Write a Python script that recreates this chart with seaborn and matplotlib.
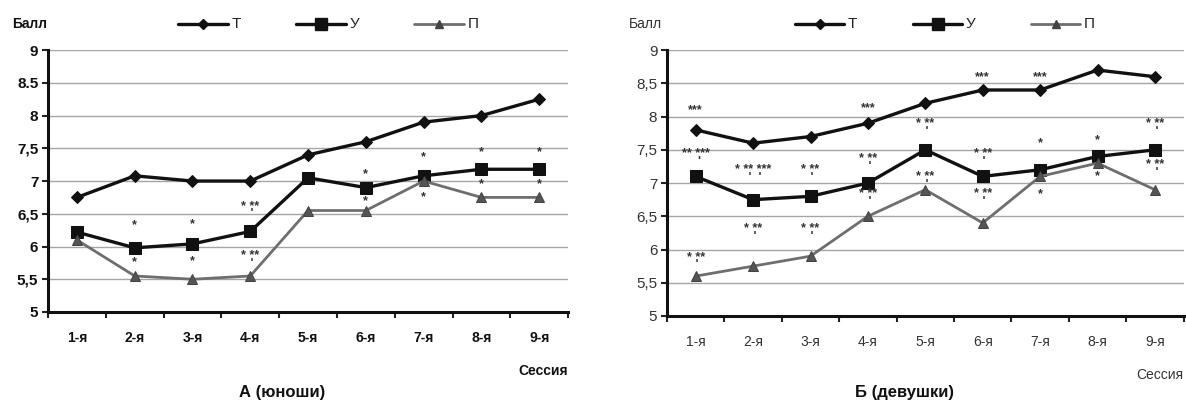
import numpy as np
import pandas as pd
import matplotlib
matplotlib.use("Agg")
import matplotlib.pyplot as plt
from matplotlib.ticker import FixedLocator
from matplotlib.lines import Line2D
import seaborn as sns

sns.set_theme(style="white")
plt.rcParams['font.family'] = ['Liberation Sans', 'DejaVu Sans']

sessions = ["1-я", "2-я", "3-я", "4-я", "5-я", "6-я", "7-я", "8-я", "9-я"]
series_names = ["Т", "У", "П"]

boys_T = [6.75, 7.08, 7.0, 7.0, 7.4, 7.6, 7.9, 8.0, 8.25]
boys_U = [6.22, 5.98, 6.04, 6.23, 7.05, 6.9, 7.08, 7.18, 7.18]
boys_P = [6.1, 5.55, 5.5, 5.55, 6.55, 6.55, 7.0, 6.75, 6.75]

girls_T = [7.8, 7.6, 7.7, 7.9, 8.2, 8.4, 8.4, 8.7, 8.6]
girls_U = [7.1, 6.75, 6.8, 7.0, 7.5, 7.1, 7.2, 7.4, 7.5]
girls_P = [5.6, 5.75, 5.9, 6.5, 6.9, 6.4, 7.1, 7.3, 6.9]

yticks = [5, 5.5, 6, 6.5, 7, 7.5, 8, 8.5, 9]
ytick_labels_boys = ["5", "5,5", "6", "6,5", "7", "7,5", "8", "8.5", "9"]
ytick_labels_girls = ["5", "5,5", "6", "6,5", "7", "7,5", "8", "8,5", "9"]

# significance marks: (session index, y value, text)
boys_marks = [
    (1, 6.33, "*"), (1, 5.76, "*"),
    (2, 6.34, "*"), (2, 5.78, "*"),
    (3, 6.55, "* **\n '"), (3, 5.80, "* **\n '"),
    (5, 7.11, "*"), (5, 6.70, "*"),
    (6, 7.36, "*"), (6, 6.76, "*"),
    (7, 7.44, "*"), (7, 6.95, "*"),
    (8, 7.44, "*"), (8, 6.95, "*"),
]
girls_marks = [
    (0, 8.1, "***"), (0, 7.38, "** ***\n  '"), (0, 5.82, "* **\n '"),
    (1, 7.14, "* ** ***\n '  '"), (1, 6.25, "* **\n '"),
    (2, 7.14, "* **\n '"), (2, 6.25, "* **\n '"),
    (3, 8.12, "***"), (3, 7.30, "* **\n '"), (3, 6.77, "* **\n '"),
    (4, 7.83, "* **\n '"), (4, 7.03, "* **\n '"),
    (5, 8.6, "***"), (5, 7.37, "* **\n '"), (5, 6.77, "* **\n '"),
    (6, 8.6, "***"), (6, 7.6, "*"), (6, 6.83, "*"),
    (7, 7.65, "*"), (7, 7.1, "*"),
    (8, 7.83, "* **\n '"), (8, 7.21, "* **\n '"),
]

palette = {"Т": "#111111", "У": "#111111", "П": "#6e6e6e"}
markers = {"Т": "D", "У": "s", "П": "^"}
msize = {"Т": 6, "У": 9, "П": 7}
lw = {"Т": 2.4, "У": 2.4, "П": 2.0}


def make_df(T, U, P):
    rows = []
    for name, vals in zip(series_names, [T, U, P]):
        for i, v in enumerate(vals):
            rows.append({"pos": i, "session": sessions[i], "val": v, "series": name})
    return pd.DataFrame(rows)


fig = plt.figure(figsize=(11.86, 4.01), dpi=100)
ax1 = fig.add_axes([0.0405, 0.222, 0.4385, 0.653])
ax2 = fig.add_axes([0.5624, 0.212, 0.4356, 0.663])


def draw(ax, df, marks, ylabels, bold, tcolor):
    for name in series_names:
        sub = df[df["series"] == name]
        sns.lineplot(data=sub, x="pos", y="val", ax=ax, color=palette[name],
                     marker=markers[name], markersize=msize[name], linewidth=lw[name],
                     markeredgecolor=palette[name] if name != "П" else "#444444",
                     markerfacecolor=palette[name] if name != "П" else "#555555",
                     legend=False, zorder=3)
    ax.set_xlim(-0.5, len(sessions) - 0.5)
    ax.set_ylim(5, 9)
    ax.set_xlabel("")
    ax.set_ylabel("")
    ax.set_facecolor("white")
    ax.yaxis.set_major_locator(FixedLocator(yticks))
    ax.set_yticklabels(ylabels, fontsize=11, fontweight="bold" if bold else "normal", color=tcolor)
    ax.set_xticks(np.arange(len(sessions)))
    ax.set_xticklabels(sessions, fontsize=10, fontweight="bold" if bold else "normal", color=tcolor)
    ax.xaxis.set_minor_locator(FixedLocator(np.arange(len(sessions) + 1) - 0.5))
    ax.tick_params(axis="x", which="major", length=0, pad=14)
    ax.tick_params(axis="x", which="minor", length=4, width=1.5, color="#222222", direction="out", bottom=True)
    ax.tick_params(axis="y", which="major", length=4, width=1.5, color="#222222", direction="out", left=True, pad=3)
    for y in yticks[1:]:
        ax.axhline(y, color="#a5a5a5", lw=1.0, zorder=1)
    for s in ["top", "right"]:
        ax.spines[s].set_visible(False)
    for s in ["left", "bottom"]:
        ax.spines[s].set_color("#111111")
        ax.spines[s].set_linewidth(2.2)
    for i, y, t in marks:
        ax.text(i, y, t, ha="center", va="center", fontsize=9, color="#333333",
                fontweight="bold", linespacing=0.55, zorder=4)


draw(ax1, make_df(boys_T, boys_U, boys_P), boys_marks, ytick_labels_boys, True, "#111111")
draw(ax2, make_df(girls_T, girls_U, girls_P), girls_marks, ytick_labels_girls, False, "#333333")


def legend_for(x0, gap):
    for k, name in enumerate(series_names):
        xs = x0 + k * gap
        ln = Line2D([xs, xs + 0.042], [0.94, 0.94], transform=fig.transFigure,
                    color=palette[name], lw=lw[name])
        fig.add_artist(ln)
        ln2 = Line2D([xs + 0.021], [0.94], transform=fig.transFigure,
                     color=palette[name] if name != "П" else "#444444", marker=markers[name],
                     markersize=msize[name] - 1, linestyle="none")
        fig.add_artist(ln2)
        fig.text(xs + 0.045, 0.94, name, fontsize=11, va="center", ha="left", color="#222222")


legend_for(0.150, 0.0995)
legend_for(0.670, 0.0995)

fig.text(0.010, 0.94, "Балл", fontsize=10, fontweight="bold", va="center", color="#111111")
fig.text(0.530, 0.94, "Балл", fontsize=10, va="center", color="#333333")
fig.text(0.479, 0.075, "Сессия", fontsize=10, fontweight="bold", ha="right", va="center", color="#111111")
fig.text(0.998, 0.065, "Сессия", fontsize=10, ha="right", va="center", color="#333333")
fig.text(0.238, 0.02, "А (юноши)", fontsize=12, fontweight="bold", ha="center", va="center", color="#111111")
fig.text(0.763, 0.02, "Б (девушки)", fontsize=12, fontweight="bold", ha="center", va="center", color="#111111")

fig.savefig("out.png", dpi=100, facecolor="white")
